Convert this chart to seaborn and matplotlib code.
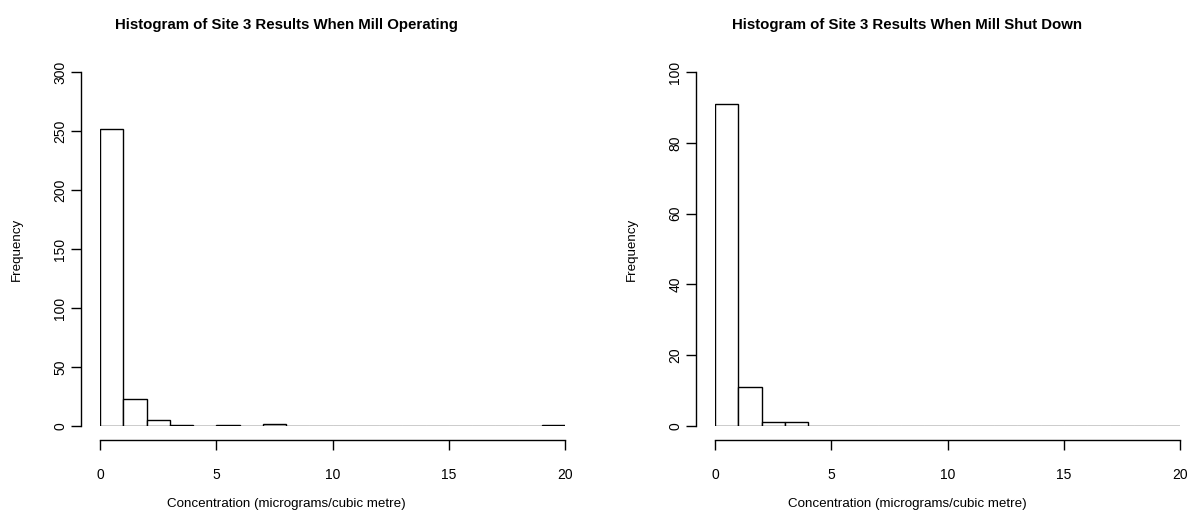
import numpy as np
import matplotlib
matplotlib.use("Agg")
import matplotlib.pyplot as plt
import seaborn as sns

# Bin edges (width 1, 0-20 micrograms/cubic metre) and counts per bin
bin_edges = list(range(0, 21))
operating_counts = [252, 23, 5, 1, 0, 1, 0, 2, 0, 0, 0, 0, 0, 0, 0, 0, 0, 0, 0, 1]
shutdown_counts = [91, 11, 1, 1, 0, 0, 0, 0, 0, 0, 0, 0, 0, 0, 0, 0, 0, 0, 0, 0]

titles = ["Histogram of Site 3 Results When Mill Operating",
          "Histogram of Site 3 Results When Mill Shut Down"]
xlabel = "Concentration (micrograms/cubic metre)"
ylabel = "Frequency"
x_ticks = [0, 5, 10, 15, 20]
y_ticks_left = [0, 50, 100, 150, 200, 250, 300]
y_ticks_right = [0, 20, 40, 60, 80, 100]

sns.set_theme(style="white")
plt.rcParams["font.family"] = ["Liberation Sans", "DejaVu Sans"]

fig = plt.figure(figsize=(11.9, 5.13), dpi=100)
W, H = 1190, 513
ax_l = fig.add_axes([100 / W, 1 - 426 / H, 465 / W, 354 / H])
ax_r = fig.add_axes([715 / W, 1 - 426 / H, 465 / W, 354 / H])

centers = [(a + b) / 2 for a, b in zip(bin_edges[:-1], bin_edges[1:])]

panels = [(ax_l, operating_counts, titles[0], y_ticks_left, 0.40),
          (ax_r, shutdown_counts, titles[1], y_ticks_right, 0.413)]

for ax, counts, title, yt, cx in panels:
    sns.histplot(x=centers, weights=counts, bins=bin_edges, ax=ax,
                 color="white", edgecolor="black", linewidth=1.0, alpha=1.0)
    ax.set_xlim(0, 20)
    ax.set_ylim(0, yt[-1])
    ax.set_xticks(x_ticks)
    ax.set_yticks(yt)
    for s in ["top", "right"]:
        ax.spines[s].set_visible(False)
    ax.spines["left"].set_position(("outward", 14))
    ax.spines["bottom"].set_position(("outward", 10))
    ax.spines["left"].set_bounds(0, yt[-1])
    ax.spines["bottom"].set_bounds(0, 20)
    for s in ["left", "bottom"]:
        ax.spines[s].set_color("black")
        ax.spines[s].set_linewidth(1.0)
    ax.tick_params(axis="both", which="major", direction="out", length=7,
                   width=1.0, color="black", left=True, bottom=True,
                   labelcolor="black", labelsize=10)
    ax.tick_params(axis="x", pad=13)
    ax.tick_params(axis="y", pad=2.5, labelrotation=90)
    for lab in ax.get_yticklabels():
        lab.set_verticalalignment("center")
    ax.set_xlabel(xlabel, fontsize=9.6, labelpad=12, color="black", x=cx)
    ax.set_ylabel(ylabel, fontsize=9.6, labelpad=22, color="black")
    ax.set_title(title, fontsize=10.8, fontweight="bold", pad=31, color="black", x=cx)
    ax.set_facecolor("white")
    ax.grid(False)

fig.savefig("out.png", dpi=100, facecolor="white")
